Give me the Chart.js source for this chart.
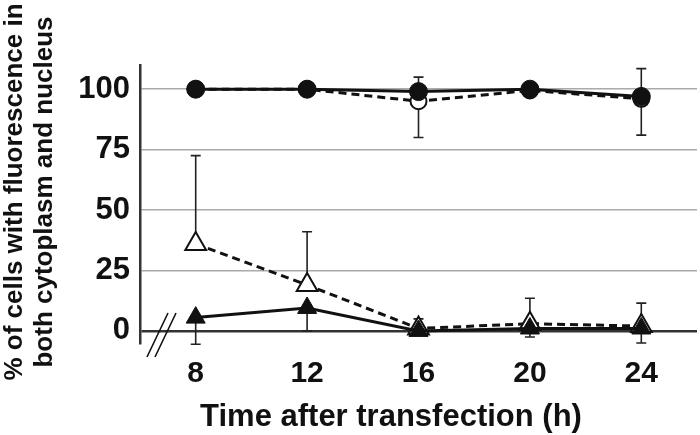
<!DOCTYPE html>
<html>
<head>
<meta charset="utf-8">
<script src="https://cdn.jsdelivr.net/npm/chart.js@4/dist/chart.umd.min.js"></script>
<style>
  html, body { margin: 0; padding: 0; background: #fff; }
  #wrap { width: 700px; height: 435px; }
</style>
</head>
<body>
<div id="wrap"><canvas id="timeChart"></canvas></div>
<script>
// Chart data
const hours = [8, 12, 16, 20, 24];
const yTicks = [0, 25, 50, 75, 100];

const filledCircle = [100, 100, 99, 100, 97];
const filledCircleHi = [null, null, 105, null, null];
const filledCircleLo = [null, null, null, null, null];

const openCircle = [100, 100, 95, 99.5, 96];
const openCircleHi = [null, null, null, null, 108.5];
const openCircleLo = [null, null, 80, null, 81];

const openTriangle = [36, 19, 1, 3, 2];
const openTriangleHi = [72.5, 41, 5, 13.5, 11.5];
const openTriangleLo = [null, null, null, null, null];

const filledTriangle = [5.5, 9.5, 0, 1, 1];
const filledTriangleHi = [null, null, null, null, null];
const filledTriangleLo = [-5.5, 0, null, -2.5, -5];

const xTitle = 'Time after transfection (h)';
const yTitle = ['% of cells with fluorescence in', 'both cytoplasm and nucleus'];

const FONT = "'Liberation Sans', Arial, sans-serif";

function toPoints(values) {
    return hours.map((h, i) => ({ x: h, y: values[i] }));
}

// Draw one-sided / two-sided error bars behind the markers
const errorBarPlugin = {
    id: 'errorBars',
    beforeDatasetsDraw(chart) {
        const ctx = chart.ctx;
        const xs = chart.scales.x;
        const ys = chart.scales.y;
        ctx.save();
        ctx.strokeStyle = '#222';
        ctx.lineWidth = 1.6;
        chart.data.datasets.forEach(ds => {
            hours.forEach((h, i) => {
                const px = xs.getPixelForValue(h);
                const py = ys.getPixelForValue(ds.data[i].y);
                [ds.errHi[i], ds.errLo[i]].forEach(end => {
                    if (end === null) return;
                    const ey = ys.getPixelForValue(end);
                    ctx.beginPath();
                    ctx.moveTo(px, py);
                    ctx.lineTo(px, ey);
                    ctx.moveTo(px - 5, ey);
                    ctx.lineTo(px + 5, ey);
                    ctx.stroke();
                });
            });
        });
        ctx.restore();
    }
};

// Axis break marks "//" and the axis titles
const decorPlugin = {
    id: 'decor',
    afterDraw(chart) {
        const ctx = chart.ctx;
        const left = chart.chartArea.left;
        const bottom = chart.chartArea.bottom;
        ctx.save();
        ctx.strokeStyle = '#111';
        ctx.lineWidth = 1.6;
        ctx.beginPath();
        ctx.moveTo(left + 7, bottom + 14);
        ctx.lineTo(left + 28, bottom - 30);
        ctx.moveTo(left + 15, bottom + 14);
        ctx.lineTo(left + 36, bottom - 30);
        ctx.stroke();

        ctx.fillStyle = '#111';
        ctx.textAlign = 'center';
        ctx.textBaseline = 'middle';
        ctx.font = 'bold 31px ' + FONT;
        ctx.fillText(xTitle, 391, 417);

        ctx.font = 'bold 26px ' + FONT;
        ctx.translate(0, 192);
        ctx.rotate(-Math.PI / 2);
        ctx.fillText(yTitle[0], 0, 15);
        ctx.fillText(yTitle[1], 0, 45);
        ctx.restore();
    }
};

const ctx = document.getElementById('timeChart').getContext('2d');
const timeChart = new Chart(ctx, {
    type: 'line',
    data: {
        datasets: [{
            label: 'filled circle',
            data: toPoints(filledCircle),
            errHi: filledCircleHi,
            errLo: filledCircleLo,
            borderColor: '#111',
            borderWidth: 3,
            pointStyle: 'circle',
            pointRadius: 9,
            pointBackgroundColor: '#111',
            pointBorderColor: '#111',
            pointBorderWidth: 1,
            order: 0
        }, {
            label: 'open circle',
            data: toPoints(openCircle),
            errHi: openCircleHi,
            errLo: openCircleLo,
            borderColor: '#111',
            borderWidth: 3,
            borderDash: [8, 5],
            pointStyle: 'circle',
            pointRadius: 8,
            pointBackgroundColor: '#fff',
            pointBorderColor: '#111',
            pointBorderWidth: 2,
            order: 1
        }, {
            label: 'filled triangle',
            data: toPoints(filledTriangle),
            errHi: filledTriangleHi,
            errLo: filledTriangleLo,
            borderColor: '#111',
            borderWidth: 3,
            pointStyle: 'triangle',
            pointRadius: 11,
            pointBackgroundColor: '#111',
            pointBorderColor: '#111',
            pointBorderWidth: 1,
            order: 2
        }, {
            label: 'open triangle',
            data: toPoints(openTriangle),
            errHi: openTriangleHi,
            errLo: openTriangleLo,
            borderColor: '#111',
            borderWidth: 3,
            borderDash: [8, 5],
            pointStyle: 'triangle',
            pointRadius: 12,
            pointBackgroundColor: '#fff',
            pointBorderColor: '#111',
            pointBorderWidth: 2,
            order: 3
        }]
    },
    options: {
        responsive: true,
        maintainAspectRatio: false,
        animation: false,
        layout: {
            autoPadding: false,
            padding: { top: 65, right: 3, bottom: 0, left: 0 }
        },
        plugins: {
            legend: { display: false },
            tooltip: { enabled: false }
        },
        scales: {
            x: {
                type: 'linear',
                min: 6,
                max: 26,
                afterBuildTicks: scale => {
                    scale.ticks = hours.map(v => ({ value: v }));
                },
                afterFit: scale => { scale.height = 92; },
                grid: { display: false, drawTicks: false },
                border: { display: false },
                ticks: {
                    color: '#111',
                    padding: 13,
                    font: { family: FONT, size: 30, weight: 'bold' }
                }
            },
            y: {
                min: -5,
                max: 110,
                afterBuildTicks: scale => {
                    scale.ticks = yTicks.map(v => ({ value: v }));
                },
                afterFit: scale => { scale.width = 140; },
                grid: {
                    drawTicks: false,
                    color: c => (c.tick && c.tick.value === 0 ? '#333' : '#aaa'),
                    lineWidth: c => (c.tick && c.tick.value === 0 ? 2.5 : 1.5)
                },
                border: { display: true, color: '#333', width: 2.5 },
                ticks: {
                    color: '#111',
                    padding: 10,
                    font: { family: FONT, size: 31, weight: 'bold' }
                }
            }
        }
    },
    plugins: [errorBarPlugin, decorPlugin]
});
</script>
</body>
</html>
